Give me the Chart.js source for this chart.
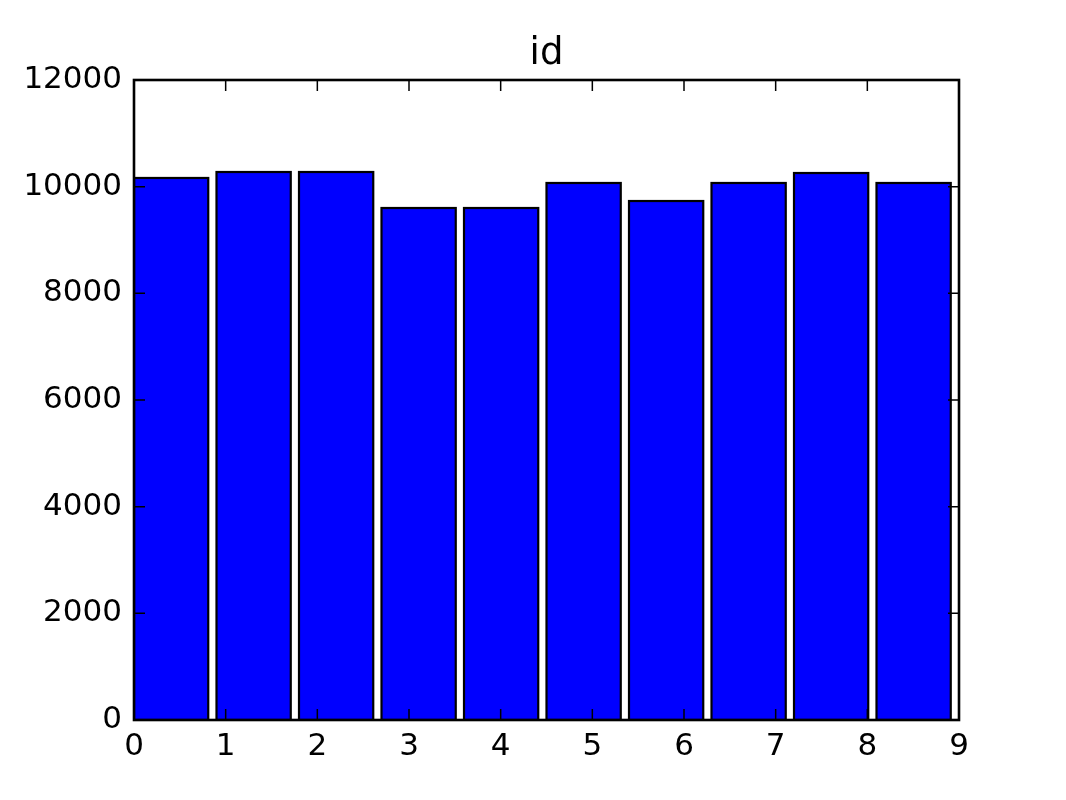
<!DOCTYPE html>
<html>
<head>
<meta charset="utf-8">
<script src="https://cdn.jsdelivr.net/npm/chart.js@4/dist/chart.umd.min.js"></script>
<style>
html,body{margin:0;padding:0;background:#fff;}
#wrap{width:1066px;height:800px;position:relative;}
</style>
</head>
<body>
<div id="wrap"><canvas id="c" width="1066" height="800"></canvas></div>
<script>
const chartTitle = "id";
const binLefts = [0, 0.9, 1.8, 2.7, 3.6, 4.5, 5.4, 6.3, 7.2, 8.1];
const binWidth = 0.9;
const relWidth = 0.9;
const counts = [10163, 10275, 10275, 9600, 9600, 10069, 9731, 10069, 10256, 10069];
const xTickValues = [0, 1, 2, 3, 4, 5, 6, 7, 8, 9];
const yTickValues = [0, 2000, 4000, 6000, 8000, 10000, 12000];

const FONT = "'DejaVu Sans', 'Liberation Sans', sans-serif";

const points = binLefts.map((l, i) => ({ x: l + binWidth * relWidth / 2, y: counts[i] }));

// Bar edges drawn centred on the bar outline (matplotlib style), then the axes frame with inward ticks
const frameTicks = {
  id: 'frameTicks',
  afterDatasetsDraw(chart) {
    const { ctx, chartArea: a, scales: { x, y } } = chart;
    ctx.save();
    ctx.beginPath();
    ctx.rect(a.left, a.top, a.right - a.left, a.bottom - a.top);
    ctx.clip();
    ctx.strokeStyle = '#000';
    ctx.lineWidth = 2.2;
    chart.getDatasetMeta(0).data.forEach(b => {
      const p = b.getProps(['x', 'y', 'base', 'width'], true);
      ctx.strokeRect(p.x - p.width / 2, p.y, p.width, p.base - p.y);
    });
    ctx.restore();

    ctx.save();
    ctx.strokeStyle = '#000';
    ctx.lineWidth = 1.5;
    ctx.beginPath();
    const L = 11;
    x.ticks.forEach(t => {
      const px = x.getPixelForValue(t.value);
      ctx.moveTo(px, a.bottom); ctx.lineTo(px, a.bottom - L);
      ctx.moveTo(px, a.top); ctx.lineTo(px, a.top + L);
    });
    y.ticks.forEach(t => {
      const py = y.getPixelForValue(t.value);
      ctx.moveTo(a.left, py); ctx.lineTo(a.left + L, py);
      ctx.moveTo(a.right, py); ctx.lineTo(a.right - L, py);
    });
    ctx.stroke();
    ctx.lineWidth = 2.6;
    ctx.strokeRect(a.left, a.top, a.right - a.left, a.bottom - a.top);
    ctx.restore();
  }
};

new Chart(document.getElementById('c'), {
  type: 'bar',
  data: {
    datasets: [{
      data: points,
      backgroundColor: '#0000ff',
      borderWidth: 0,
      inflateAmount: 0,
      barPercentage: 0.9,
      categoryPercentage: 1.0
    }]
  },
  options: {
    responsive: false,
    animation: false,
    devicePixelRatio: 1,
    layout: { padding: { left: 0, right: 107, top: 0, bottom: 0 } },
    plugins: {
      legend: { display: false },
      tooltip: { enabled: false },
      title: {
        display: true,
        text: chartTitle,
        fullSize: false,
        color: '#000',
        font: { family: FONT, size: 37, weight: 'normal' },
        padding: { top: 32, bottom: 3.6 }
      }
    },
    scales: {
      x: {
        type: 'linear',
        min: 0,
        max: 9,
        offset: false,
        grid: { display: false, drawTicks: false, offset: false },
        border: { display: false },
        afterBuildTicks: s => { s.ticks = xTickValues.map(v => ({ value: v })); },
        afterFit: s => { s.height = 80; },
        ticks: {
          color: '#000',
          padding: 8,
          maxRotation: 0,
          autoSkip: false,
          font: { family: FONT, size: 31 },
          callback: v => String(v)
        }
      },
      y: {
        type: 'linear',
        min: 0,
        max: 12000,
        grid: { display: false, drawTicks: false },
        border: { display: false },
        afterBuildTicks: s => { s.ticks = yTickValues.map(v => ({ value: v })); },
        afterFit: s => { s.width = 134; },
        ticks: {
          color: '#000',
          padding: 12,
          autoSkip: false,
          font: { family: FONT, size: 31 },
          callback: v => String(v)
        }
      }
    }
  },
  plugins: [frameTicks]
});
</script>
</body>
</html>
